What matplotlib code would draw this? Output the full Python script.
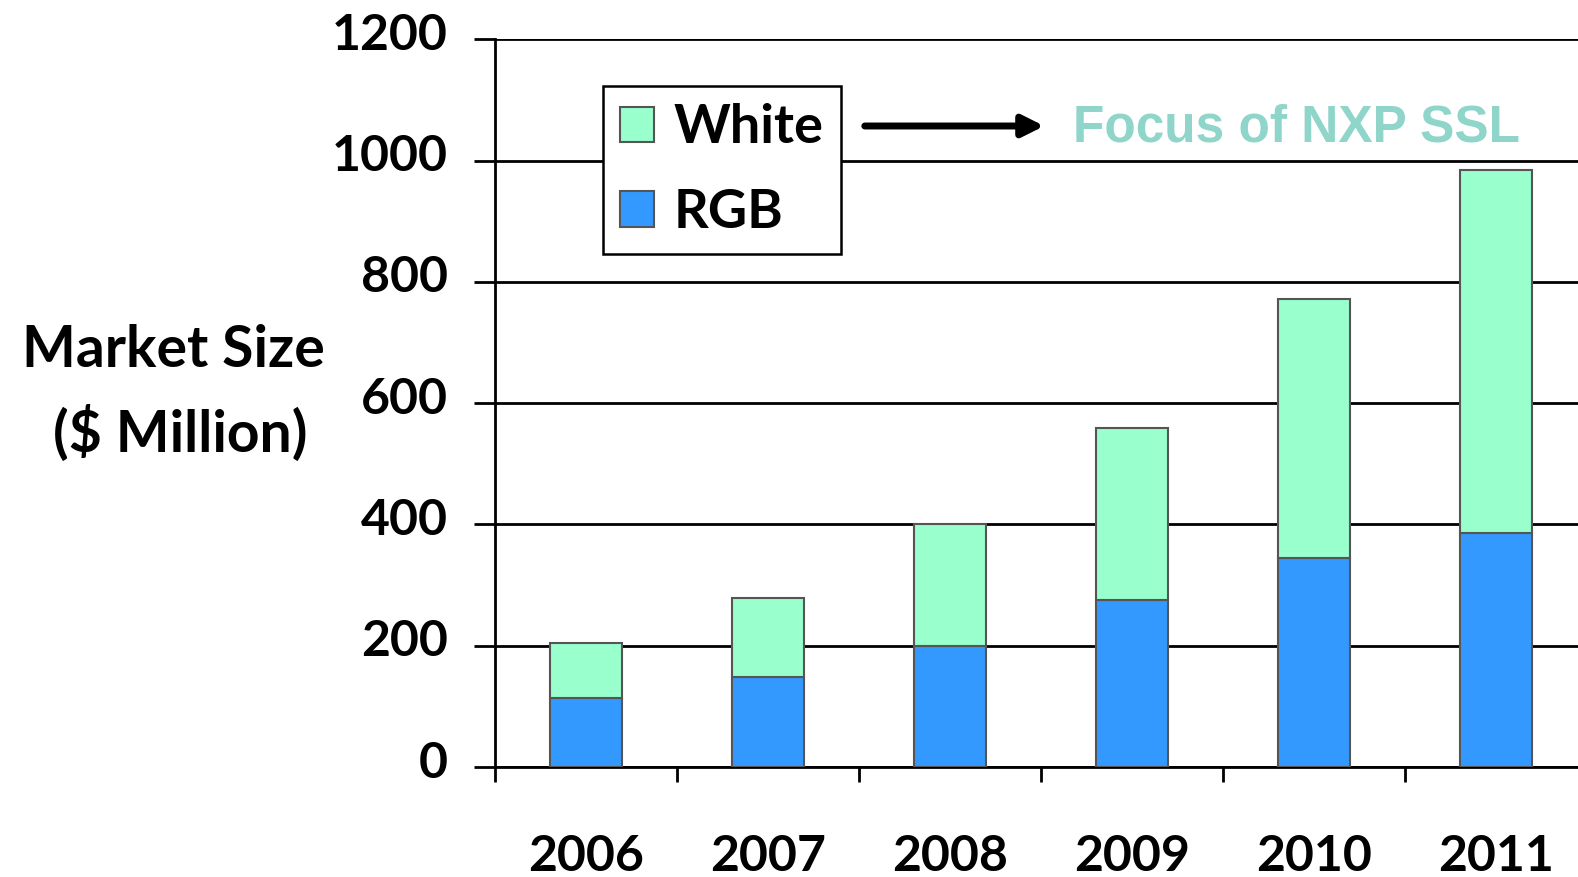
import matplotlib
matplotlib.use("Agg")
import matplotlib.pyplot as plt
import matplotlib.transforms as mtransforms
from matplotlib.patches import Patch, FancyArrowPatch
import numpy as np

years = ["2006", "2007", "2008", "2009", "2010", "2011"]
rgb = [114, 148, 200, 276, 345, 386]
white = [90, 131, 200, 283, 427, 598]
y_ticks = [0, 200, 400, 600, 800, 1000, 1200]

RGB_COLOR = "#3399FF"
WHITE_COLOR = "#99FFCC"
EDGE = "#555555"
FOCUS_COLOR = "#8FD5C9"
W, H = 1578, 877

plt.rcParams["font.family"] = ["Lato", "DejaVu Sans"]
plt.rcParams["font.weight"] = "bold"

fig = plt.figure(figsize=(W / 100, H / 100), dpi=100)
ax = fig.add_axes([495 / W, 1 - 767 / H, 1 - 495 / W, (767 - 39.4) / H])

x = np.arange(len(years))
ax.bar(x, rgb, width=0.4, color=RGB_COLOR, edgecolor=EDGE, linewidth=1.5, zorder=3, label="RGB")
ax.bar(x, white, width=0.4, bottom=rgb, color=WHITE_COLOR, edgecolor=EDGE, linewidth=1.5, zorder=3, label="White")

ax.set_xlim(-0.5, 5.45)
ax.set_ylim(0, 1200)
ax.set_yticks(y_ticks)
ax.set_yticklabels([])
ax.yaxis.grid(True, color="black", linewidth=2, zorder=1)
ax.set_axisbelow(True)

# y labels drawn by hand: they sit a little above their gridlines in the original
lab_tr = ax.get_yaxis_transform() + mtransforms.ScaledTranslation(-47 / 100, 8 / 100, fig.dpi_scale_trans)
for v in y_ticks:
    ax.text(0, v, str(v), transform=lab_tr, fontsize=36, fontweight="bold",
            ha="right", va="center_baseline", clip_on=False)

ax.set_xticks(x)
ax.set_xticklabels(years, fontsize=36, fontweight="bold")
ax.set_xticks(np.arange(-0.5, 5.0, 1.0), minor=True)
ax.tick_params(axis="x", which="major", length=0, pad=48)
ax.tick_params(axis="x", which="minor", length=11, width=2, direction="out")
ax.tick_params(axis="y", length=15, width=2)

for s in ["top", "right"]:
    ax.spines[s].set_visible(False)
ax.spines["left"].set_linewidth(2)
ax.spines["bottom"].set_linewidth(2)

# y label as two centered lines at the left
fig.text(173 / W, 1 - 367 / H, "Market Size", fontsize=41, fontweight="bold",
         ha="center", va="baseline")
fig.text(180 / W, 1 - 452 / H, "($ Million)", fontsize=41, fontweight="bold",
         ha="center", va="baseline")

handles = [Patch(facecolor=WHITE_COLOR, edgecolor=EDGE, linewidth=1.5, label="White"),
           Patch(facecolor=RGB_COLOR, edgecolor=EDGE, linewidth=1.5, label="RGB")]
leg = fig.legend(handles=handles, loc="upper left", bbox_to_anchor=(603 / W, 1 - 86 / H),
                 prop={"family": "Lato", "weight": "bold", "size": 39},
                 handlelength=0.63, handleheight=0.63, handletextpad=0.35,
                 labelspacing=0.66, borderpad=0.32, frameon=True, fancybox=False,
                 edgecolor="black", framealpha=1, borderaxespad=0)
leg.get_frame().set_linewidth(1.8)

fig.add_artist(FancyArrowPatch(
    (862 / W, 1 - 126 / H), (1047 / W, 1 - 126 / H), transform=fig.transFigure,
    arrowstyle="-|>", mutation_scale=32, linewidth=5, color="black"))
fig.text(1073 / W, 1 - 141 / H, "Focus of NXP SSL", fontsize=37, fontweight="bold",
         family="Liberation Sans", color=FOCUS_COLOR, ha="left", va="baseline")

fig.savefig("out.png", dpi=100)
